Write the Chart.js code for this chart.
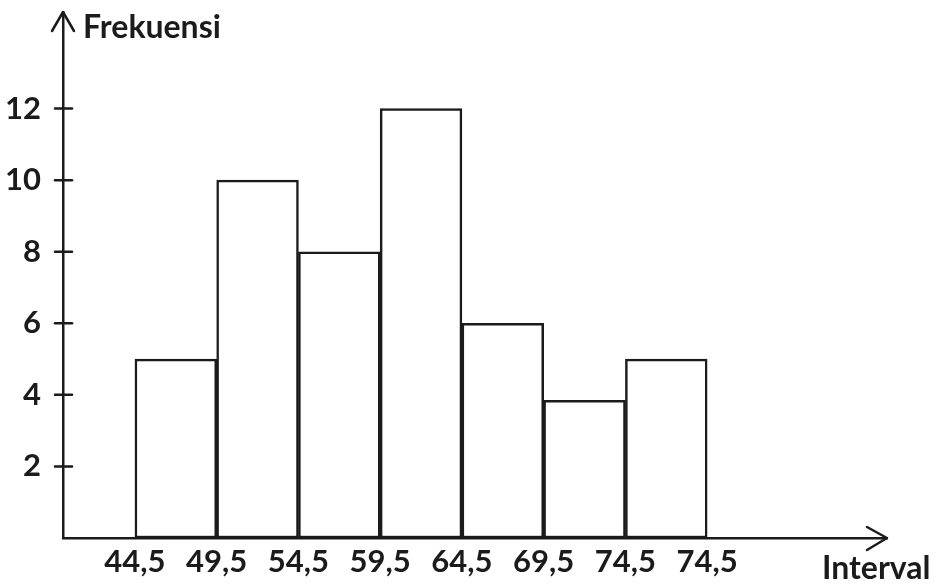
<!DOCTYPE html>
<html>
<head>
<meta charset="utf-8">
<script src="https://cdn.jsdelivr.net/npm/chart.js@4"></script>
<style>
  html, body { margin: 0; padding: 0; background: #fff; }
  #wrap { width: 947px; height: 585px; }
</style>
</head>
<body>
<div id="wrap"><canvas id="histChart" width="947" height="585"></canvas></div>
<script>
// --- Data ---
const classEdges = [44.5, 49.5, 54.5, 59.5, 64.5, 69.5, 74.5, 79.5];
const edgeLabels = ['44,5', '49,5', '54,5', '59,5', '64,5', '69,5', '74,5', '74,5'];
const frequencies = [5, 10, 8, 12, 6, 3.85, 5];
const yTickValues = [2, 4, 6, 8, 10, 12];
const yTitle = 'Frekuensi';
const xTitle = 'Interval';

// --- Style ---
const INK = '#1b1b1b';
const FONT = 'Lato, "Open Sans", sans-serif';

const barPoints = frequencies.map((f, i) => ({ x: (classEdges[i] + classEdges[i + 1]) / 2, y: f }));

// axes arrows, y tick marks and axis titles
const axisDecor = {
  id: 'axisDecor',
  afterDraw(chart) {
    const { ctx, chartArea: a, scales: { y } } = chart;
    ctx.save();
    ctx.strokeStyle = INK;
    ctx.lineWidth = 2.5;
    ctx.lineCap = 'round';
    ctx.lineJoin = 'round';

    // tick marks crossing the y axis
    yTickValues.forEach((v) => {
      const py = y.getPixelForValue(v);
      ctx.beginPath();
      ctx.moveTo(a.left - 8, py);
      ctx.lineTo(a.left + 9, py);
      ctx.stroke();
    });

    // y arrow
    ctx.beginPath();
    ctx.moveTo(a.left - 11, a.top + 19);
    ctx.lineTo(a.left, a.top);
    ctx.lineTo(a.left + 11, a.top + 19);
    ctx.stroke();

    // x arrow
    ctx.beginPath();
    ctx.moveTo(a.right - 20, a.bottom - 11);
    ctx.lineTo(a.right, a.bottom);
    ctx.lineTo(a.right - 20, a.bottom + 12);
    ctx.stroke();

    ctx.fillStyle = INK;
    ctx.font = 'bold 32px ' + FONT;
    ctx.textBaseline = 'middle';
    ctx.textAlign = 'left';
    ctx.fillText(yTitle, a.left + 20, 28);
    ctx.fillText(xTitle, 822, 569);
    ctx.restore();
  }
};

new Chart(document.getElementById('histChart'), {
  type: 'bar',
  data: {
    datasets: [{
      data: barPoints,
      backgroundColor: '#ffffff',
      borderColor: INK,
      borderWidth: 2.5,
      borderSkipped: false,
      barPercentage: 1,
      categoryPercentage: 1
    }]
  },
  options: {
    responsive: false,
    animation: false,
    layout: { padding: { left: 0, top: 12, right: 60, bottom: 0 } },
    plugins: { legend: { display: false }, tooltip: { enabled: false } },
    scales: {
      x: {
        type: 'linear',
        offset: false,
        min: 40.1,
        max: 90.5,
        grid: { display: false },
        border: { display: true, color: INK, width: 2.5 },
        afterBuildTicks: (scale) => { scale.ticks = classEdges.map((v) => ({ value: v })); },
        afterFit: (scale) => {
          scale.height = 47;
          scale.paddingLeft = 0;
          scale.paddingRight = 0;
        },
        ticks: {
          autoSkip: false,
          maxRotation: 0,
          padding: -3,
          color: INK,
          font: { family: FONT, size: 31, weight: 'bold' },
          callback: (v, i) => edgeLabels[i]
        }
      },
      y: {
        min: 0,
        max: 14.7,
        grid: { display: false },
        border: { display: true, color: INK, width: 2.5 },
        afterBuildTicks: (scale) => { scale.ticks = yTickValues.map((v) => ({ value: v })); },
        afterFit: (scale) => {
          scale.width = 63;
          scale.paddingTop = 0;
          scale.paddingBottom = 0;
        },
        ticks: {
          padding: 14,
          color: INK,
          font: { family: FONT, size: 31, weight: 'bold' }
        }
      }
    }
  },
  plugins: [axisDecor]
});
</script>
</body>
</html>
